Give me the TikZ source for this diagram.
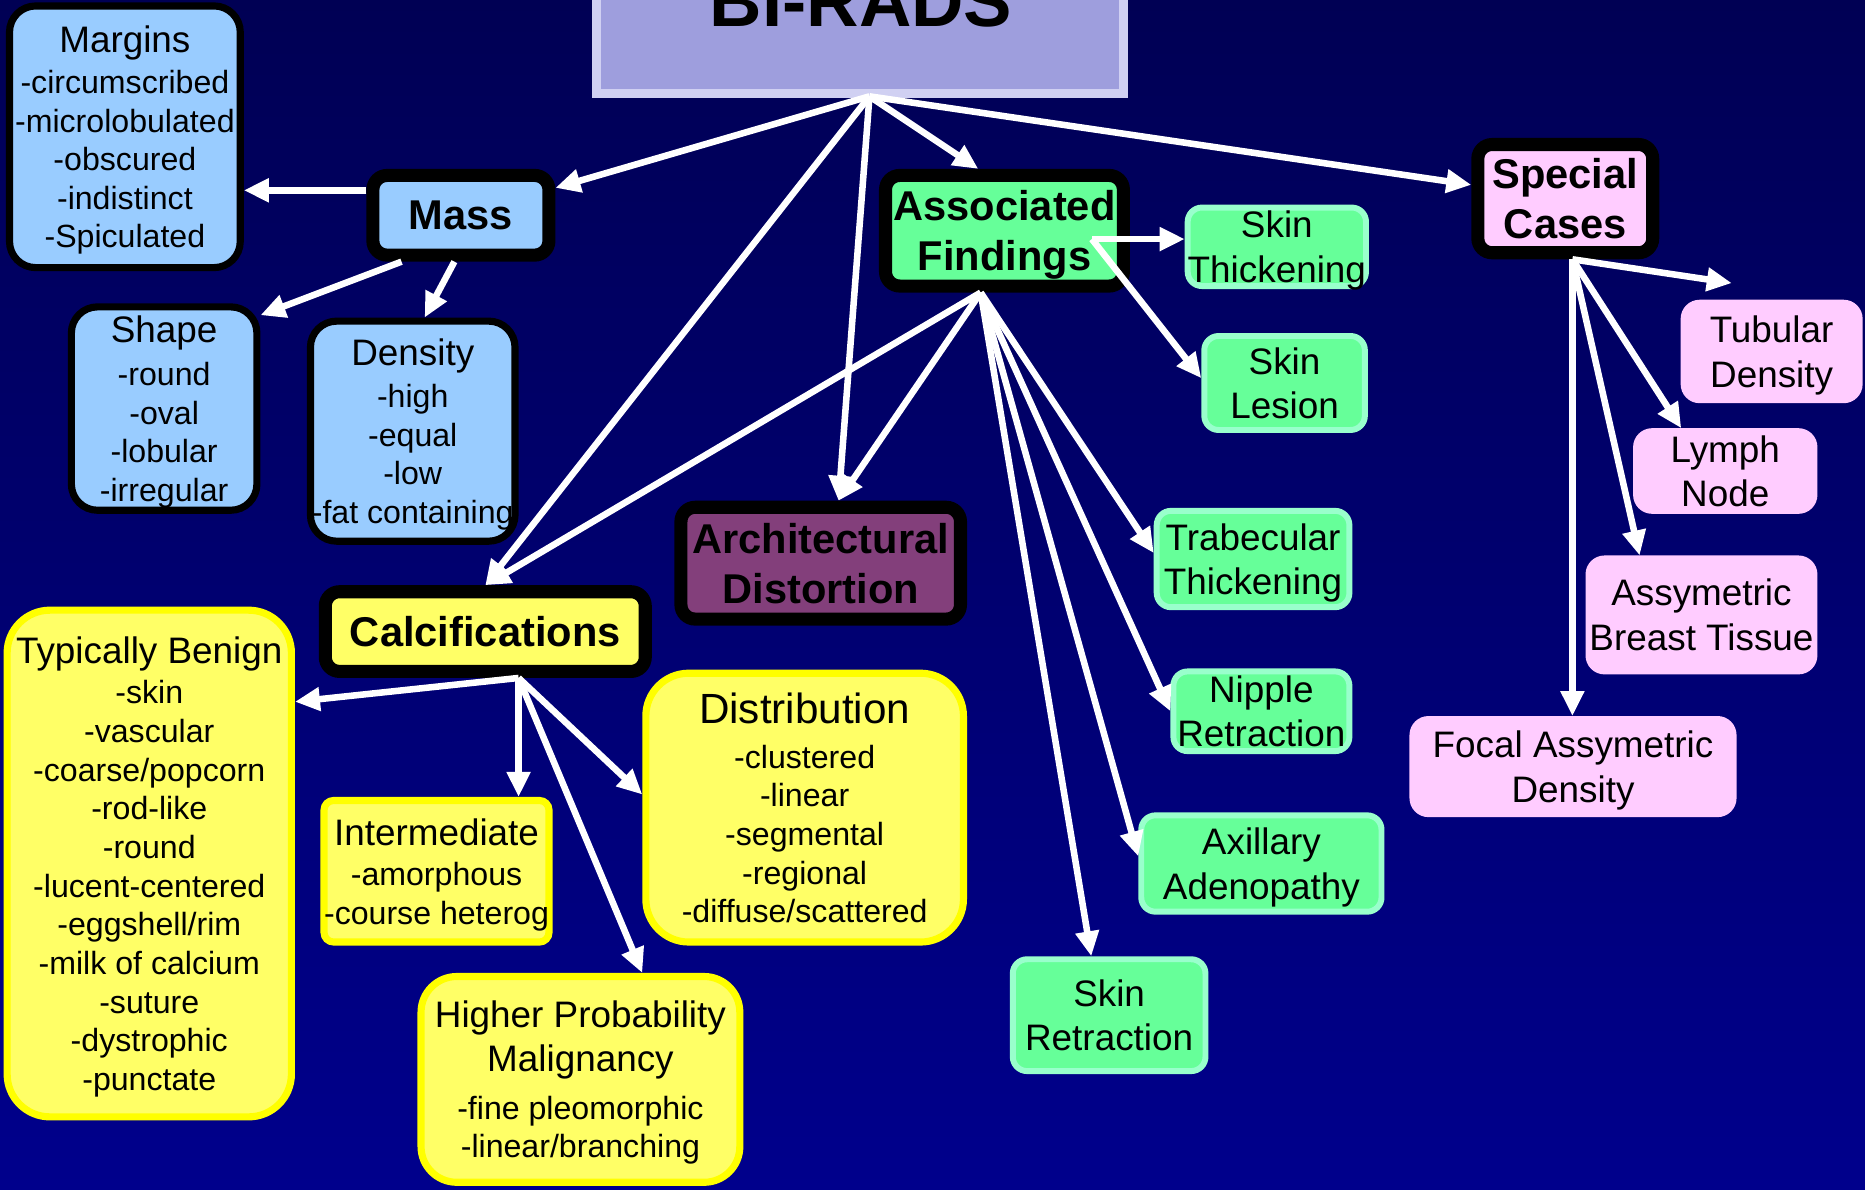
\documentclass[tikz,border=0pt]{standalone}
\usepackage{fontspec}
\setmainfont{Liberation Sans}
\usetikzlibrary{arrows.meta,calc}

% font sizes (1pt = 1 unit of the drawing grid)
\newcommand\bhItem{\fontsize{27}{32.5}\selectfont}
\newcommand\bhHead{\fontsize{31}{32.5}\selectfont}
\newcommand\bhDist{\fontsize{35.5}{32.5}\selectfont}
\newcommand\bhLabel{\fontsize{31}{37.5}\selectfont}
\newcommand\bhBold{\bfseries\fontsize{35}{42}\selectfont}
\newcommand\bhTitle{\bfseries\fontsize{61}{61}\selectfont}

\definecolor{bgtop}{RGB}{0,0,84}
\definecolor{bgbottom}{RGB}{0,0,140}
\definecolor{titlefill}{RGB}{158,158,221}
\definecolor{titleline}{RGB}{208,208,242}
\definecolor{massblue}{RGB}{153,204,255}
\definecolor{yelfill}{RGB}{255,255,102}
\definecolor{yelline}{RGB}{255,255,0}
\definecolor{grnfill}{RGB}{102,255,153}
\definecolor{grnline}{RGB}{153,255,204}
\definecolor{pinkfill}{RGB}{255,204,255}
\definecolor{archpurple}{RGB}{131,63,123}

\tikzset{
  boxtext/.style={inner sep=0pt, align=center, text depth=0pt},
  cat/.style={boxtext, draw=black, line width=11pt, rounded corners=12pt, font=\bhBold},
  listbox/.style={boxtext, draw=black, fill=massblue, line width=6pt, rounded corners=22pt,
    font=\bhItem},
  yelbox/.style={boxtext, draw=yelline, fill=yelfill, line width=6pt, font=\bhItem},
  grnbox/.style={boxtext, draw=grnline, fill=grnfill, line width=5pt, rounded corners=12pt,
    font=\bhLabel},
  pnkbox/.style={boxtext, draw=pinkfill, fill=pinkfill, line width=2pt, rounded corners=15pt,
    font=\bhLabel},
  arr/.style={draw=white, line width=5.5pt, -{Triangle[length=21pt,width=19pt]}},
}

\begin{document}
\begin{tikzpicture}[x=1pt,y=-1pt]
  % background
  \fill[top color=bgtop, bottom color=bgbottom] (0,0) rectangle (1568,1000);
  \useasboundingbox (0,0) rectangle (1568,1000);
  \clip (0,0) rectangle (1568,1000);

  % title
  \node[draw=titleline, fill=titlefill, line width=7pt, inner sep=0pt,
        minimum width=443pt, minimum height=160pt] (titlebox) at (723,-1.5) {};
  \node[font=\bhTitle, anchor=base, inner sep=0pt] (titletext) at (724,22) {BI-RADS};
  \coordinate (root) at (731,81);

  % mass branch
  \node[cat, fill=massblue, minimum width=148pt, minimum height=67pt] (mass) at (387.5,181) {Mass};
  \node[listbox, minimum width=194pt, minimum height=220pt] (margins) at (105,115)
    {{\bhHead Margins}\\[2pt]-circumscribed\\-microlobulated\\-obscured\\-indistinct\\-Spiculated};
  \node[listbox, minimum width=156pt, minimum height=171pt] (shape) at (138,343.5)
    {{\bhHead Shape}\\[3.5pt]-round\\-oval\\-lobular\\-irregular};
  \node[listbox, minimum width=172pt, minimum height=185pt] (density) at (347,362.5)
    {{\bhHead Density}\\[2.5pt]-high\\-equal\\-low\\-fat containing};

  % calcification branch
  \node[cat, fill=yelfill, minimum width=269pt, minimum height=67pt] (calc) at (408,531) {Calcifications};
  \node[yelbox, rounded corners=36pt, minimum width=239pt, minimum height=426pt] (benign) at (125.5,726)
    {{\bhHead Typically Benign}\\[1.5pt]-skin\\-vascular\\-coarse/popcorn\\-rod-like\\-round\\-lucent-centered\\-eggshell/rim\\-milk of calcium\\-suture\\-dystrophic\\-punctate};
  \node[yelbox, rounded corners=8pt, minimum width=186pt, minimum height=119pt] (inter) at (367,732.5)
    {{\bhHead Intermediate}\\[1.5pt]-amorphous\\-course heterog};
  \node[yelbox, rounded corners=36pt, minimum width=267pt, minimum height=226pt] (distr) at (676.5,679)
    {{\bhDist Distribution}\\[5.5pt]-clustered\\-linear\\-segmental\\-regional\\-diffuse/scattered};
  \node[yelbox, rounded corners=30pt, minimum width=268pt, minimum height=173pt] (higher) at (488,907.5)
    {{\bhHead Higher Probability}\\[4.5pt]{\bhHead Malignancy}\\[7.5pt]-fine pleomorphic\\-linear/branching};

  % architectural distortion
  \node[cat, fill=archpurple, minimum width=235pt, minimum height=94pt] (arch) at (690,473.5) {Architectural\\Distortion};

  % associated findings branch
  \node[cat, fill=grnfill, minimum width=200pt, minimum height=93pt] (assoc) at (844.5,194) {Associated\\Findings};
  \node[grnbox, minimum width=148pt, minimum height=66pt] (skthick) at (1073.5,207.5) {Skin\\Thickening};
  \node[grnbox, minimum width=135pt, minimum height=79pt] (sklesion) at (1080,322) {Skin\\Lesion};
  \node[grnbox, minimum width=162pt, minimum height=81pt] (trab) at (1053.5,470) {Trabecular\\Thickening};
  \node[grnbox, minimum width=148pt, minimum height=67pt] (nipple) at (1060.5,598) {Nipple\\Retraction};
  \node[grnbox, minimum width=202pt, minimum height=81pt] (axil) at (1060.5,726) {Axillary\\Adenopathy};
  \node[grnbox, minimum width=162pt, minimum height=94pt] (skret) at (932.5,853.5) {Skin\\Retraction};

  % special cases branch
  \node[cat, fill=pinkfill, minimum width=147pt, minimum height=91pt] (special) at (1316,167) {Special\\Cases};
  \node[pnkbox, minimum width=151pt, minimum height=85pt] (tubular) at (1489.5,295.5) {Tubular\\Density};
  \node[pnkbox, minimum width=153pt, minimum height=70pt] (lymph) at (1450.5,396) {Lymph\\Node};
  \node[pnkbox, minimum width=193pt, minimum height=98pt] (asymbt) at (1430.5,517) {Assymetric\\Breast Tissue};
  \node[pnkbox, minimum width=273pt, minimum height=83pt] (focal) at (1322.5,644.5) {Focal Assymetric\\Density};

  % fork points
  \coordinate (massleft) at ([yshift=21pt]mass.west);
  \coordinate (cfork) at ([xshift=28pt]calc.south);
  \coordinate (afork) at ([xshift=-20pt]assoc.south);
  \coordinate (aside) at ([xshift=-32pt,yshift=-7pt]assoc.east);
  \coordinate (sfork) at ([xshift=6pt]special.south);

  % connectors from the root
  \draw[arr] (root) -- (mass);
  \draw[arr] (root) -- (calc.north);
  \draw[arr] (root) -- ([xshift=15pt]arch.north);
  \draw[arr] (root) -- ([xshift=-22pt]assoc.north);
  \draw[arr] (root) -- (special);

  % mass connectors
  \draw[arr] (massleft) -- (massleft -| margins.east);
  \draw[arr] (mass.218) -- ([yshift=-10pt]shape.north east);
  \draw[arr] (mass.262) -- ([xshift=10pt]density.north);

  % calcification connectors
  \draw[arr] (cfork) -- ([yshift=136pt]benign.east);
  \draw[arr] (cfork) -- (cfork |- inter.north);
  \draw[arr] (cfork) -- ([yshift=11pt]distr.west);
  \draw[arr] (cfork) -- ([xshift=52pt]higher.north);

  % associated findings connectors
  \draw[arr] (afork) -- (calc.north);
  \draw[arr] (afork) -- ([xshift=15pt]arch.north);
  \draw[arr] (aside) -- (aside -| skthick.west);
  \draw[arr] (aside) -- ([yshift=4pt]sklesion.west);
  \draw[arr] (afork) -- ([yshift=5pt]trab.west);
  \draw[arr] (afork) -- (nipple.west);
  \draw[arr] (afork) -- ([yshift=6pt]axil.west);
  \draw[arr] (afork) -- ([xshift=-15pt]skret.north);

  % special cases connectors
  \draw[arr] (sfork) -- ([xshift=-33.5pt,yshift=14pt]tubular.north);
  \draw[arr] (sfork) -- ([xshift=-37pt]lymph.north);
  \draw[arr] (sfork) -- ([xshift=-52pt]asymbt.north);
  \draw[arr] (sfork) -- (sfork |- focal.north);
\end{tikzpicture}
\end{document}
